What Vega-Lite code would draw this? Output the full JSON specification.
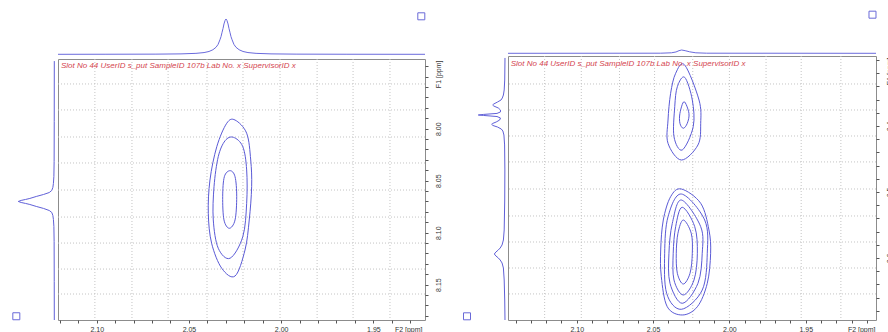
{
  "$schema": "https://vega.github.io/schema/vega-lite/v6.json",
  "padding": 0,
  "spacing": 5,
  "resolve": {"scale": {"x": "independent", "y": "independent"}},
  "config": {"view": {"stroke": null}, "font": "Liberation Sans"},
  "datasets": {
    "tp1": [{"ppm":2.121,"i":0},{"ppm":2.095,"i":0.0017},{"ppm":2.0679,"i":0.005},{"ppm":2.0543,"i":0.012},{"ppm":2.0462,"i":0.027},{"ppm":2.0418,"i":0.049},{"ppm":2.0391,"i":0.08},{"ppm":2.037,"i":0.129},{"ppm":2.0353,"i":0.2},{"ppm":2.0342,"i":0.28},{"ppm":2.0332,"i":0.41},{"ppm":2.0326,"i":0.5},{"ppm":2.0321,"i":0.61},{"ppm":2.0315,"i":0.735},{"ppm":2.031,"i":0.86},{"ppm":2.0304,"i":0.96},{"ppm":2.0299,"i":1.0},{"ppm":2.0294,"i":0.96},{"ppm":2.0288,"i":0.86},{"ppm":2.0283,"i":0.735},{"ppm":2.0277,"i":0.61},{"ppm":2.0272,"i":0.5},{"ppm":2.0266,"i":0.41},{"ppm":2.0256,"i":0.28},{"ppm":2.0245,"i":0.2},{"ppm":2.0228,"i":0.129},{"ppm":2.0207,"i":0.08},{"ppm":2.018,"i":0.049},{"ppm":2.0136,"i":0.027},{"ppm":2.0055,"i":0.012},{"ppm":1.9919,"i":0.005},{"ppm":1.9648,"i":0.0017},{"ppm":1.922,"i":0}],
    "lp1": [{"ppm":7.935,"i":0},{"ppm":7.9931,"i":0.002},{"ppm":8.0315,"i":0.005},{"ppm":8.046,"i":0.012},{"ppm":8.0527,"i":0.025},{"ppm":8.0565,"i":0.04},{"ppm":8.0594,"i":0.07},{"ppm":8.0614,"i":0.14},{"ppm":8.0633,"i":0.3},{"ppm":8.0652,"i":0.5},{"ppm":8.0671,"i":0.68},{"ppm":8.0681,"i":0.8},{"ppm":8.069,"i":0.92},{"ppm":8.07,"i":1.0},{"ppm":8.071,"i":0.92},{"ppm":8.0719,"i":0.8},{"ppm":8.0729,"i":0.68},{"ppm":8.0748,"i":0.5},{"ppm":8.0767,"i":0.3},{"ppm":8.0787,"i":0.14},{"ppm":8.0806,"i":0.07},{"ppm":8.0835,"i":0.04},{"ppm":8.0873,"i":0.025},{"ppm":8.094,"i":0.012},{"ppm":8.1085,"i":0.005},{"ppm":8.1469,"i":0.002},{"ppm":8.184,"i":0}],
    "tp2": [{"ppm":2.145,"i":0},{"ppm":2.045,"i":0.003},{"ppm":2.038,"i":0.015},{"ppm":2.035,"i":0.04},{"ppm":2.033,"i":0.08},{"ppm":2.0313,"i":0.1},{"ppm":2.029,"i":0.08},{"ppm":2.026,"i":0.045},{"ppm":2.022,"i":0.015},{"ppm":2.015,"i":0.003},{"ppm":1.904,"i":0}],
    "lp2": [{"ppm":0.297,"i":0},{"ppm":0.3304,"i":0.01},{"ppm":0.3455,"i":0.03},{"ppm":0.3531,"i":0.06},{"ppm":0.3576,"i":0.1},{"ppm":0.3607,"i":0.15},{"ppm":0.3637,"i":0.28},{"ppm":0.3667,"i":0.42},{"ppm":0.3682,"i":0.46},{"ppm":0.3698,"i":0.42},{"ppm":0.3728,"i":0.25},{"ppm":0.3758,"i":0.17},{"ppm":0.3788,"i":0.17},{"ppm":0.381,"i":0.3},{"ppm":0.3825,"i":0.8},{"ppm":0.3834,"i":1.0},{"ppm":0.3841,"i":0.8},{"ppm":0.3857,"i":0.3},{"ppm":0.3879,"i":0.17},{"ppm":0.391,"i":0.2},{"ppm":0.394,"i":0.33},{"ppm":0.3963,"i":0.47},{"ppm":0.3975,"i":0.5},{"ppm":0.3993,"i":0.45},{"ppm":0.4016,"i":0.28},{"ppm":0.4046,"i":0.14},{"ppm":0.4076,"i":0.08},{"ppm":0.4137,"i":0.04},{"ppm":0.4288,"i":0.015},{"ppm":0.4667,"i":0.005},{"ppm":0.5122,"i":0.01},{"ppm":0.5576,"i":0.03},{"ppm":0.5728,"i":0.06},{"ppm":0.5803,"i":0.11},{"ppm":0.5849,"i":0.18},{"ppm":0.5879,"i":0.25},{"ppm":0.591,"i":0.34},{"ppm":0.594,"i":0.4},{"ppm":0.597,"i":0.34},{"ppm":0.6,"i":0.25},{"ppm":0.6031,"i":0.18},{"ppm":0.6076,"i":0.11},{"ppm":0.6152,"i":0.06},{"ppm":0.6334,"i":0.03},{"ppm":0.6637,"i":0.01},{"ppm":0.694,"i":0}],
    "c1": [
      {"c":1,"k":0,"x":2.025,"y":7.9917},{"c":1,"k":1,"x":2.0187,"y":8.0044},{"c":1,"k":2,"x":2.0165,"y":8.0301},{"c":1,"k":3,"x":2.016,"y":8.0558},{"c":1,"k":4,"x":2.0173,"y":8.0878},{"c":1,"k":5,"x":2.0196,"y":8.1167},{"c":1,"k":6,"x":2.025,"y":8.1417},{"c":1,"k":7,"x":2.0322,"y":8.1343},{"c":1,"k":8,"x":2.0377,"y":8.1102},{"c":1,"k":9,"x":2.0395,"y":8.0814},{"c":1,"k":10,"x":2.0386,"y":8.0494},{"c":1,"k":11,"x":2.0349,"y":8.0173},{"c":1,"k":12,"x":2.0295,"y":7.9948},
      {"c":2,"k":0,"x":2.0259,"y":8.0083},{"c":2,"k":1,"x":2.0208,"y":8.0173},{"c":2,"k":2,"x":2.0187,"y":8.0397},{"c":2,"k":3,"x":2.0187,"y":8.0718},{"c":2,"k":4,"x":2.0208,"y":8.1039},{"c":2,"k":5,"x":2.0277,"y":8.1246},{"c":2,"k":6,"x":2.0341,"y":8.115},{"c":2,"k":7,"x":2.0368,"y":8.0878},{"c":2,"k":8,"x":2.0364,"y":8.0558},{"c":2,"k":9,"x":2.0341,"y":8.0269},{"c":2,"k":10,"x":2.0304,"y":8.0116},
      {"c":3,"k":0,"x":2.0277,"y":8.0404},{"c":3,"k":1,"x":2.025,"y":8.0462},{"c":3,"k":2,"x":2.0241,"y":8.0654},{"c":3,"k":3,"x":2.025,"y":8.0878},{"c":3,"k":4,"x":2.0281,"y":8.0958},{"c":3,"k":5,"x":2.031,"y":8.0878},{"c":3,"k":6,"x":2.0317,"y":8.0654},{"c":3,"k":7,"x":2.0308,"y":8.0462}
    ],
    "c2": [
      {"c":1,"k":0,"x":2.0293,"y":0.3076},{"c":1,"k":1,"x":2.0199,"y":0.3607},{"c":1,"k":2,"x":2.0188,"y":0.396},{"c":1,"k":3,"x":2.0206,"y":0.4288},{"c":1,"k":4,"x":2.0315,"y":0.4516},{"c":1,"k":5,"x":2.0402,"y":0.4263},{"c":1,"k":6,"x":2.0402,"y":0.391},{"c":1,"k":7,"x":2.0385,"y":0.3505},{"c":1,"k":8,"x":2.0352,"y":0.3202},
      {"c":2,"k":0,"x":2.0293,"y":0.3263},{"c":2,"k":1,"x":2.0243,"y":0.3607},{"c":2,"k":2,"x":2.0237,"y":0.4011},{"c":2,"k":3,"x":2.0309,"y":0.4364},{"c":2,"k":4,"x":2.0363,"y":0.4163},{"c":2,"k":5,"x":2.0358,"y":0.3708},{"c":2,"k":6,"x":2.0341,"y":0.3405},
      {"c":3,"k":0,"x":2.0297,"y":0.3632},{"c":3,"k":1,"x":2.0265,"y":0.3808},{"c":3,"k":2,"x":2.0276,"y":0.396},{"c":3,"k":3,"x":2.0302,"y":0.4035},{"c":3,"k":4,"x":2.0324,"y":0.396},{"c":3,"k":5,"x":2.0324,"y":0.3808},
      {"c":4,"k":0,"x":2.0315,"y":0.4955},{"c":4,"k":1,"x":2.0188,"y":0.5172},{"c":4,"k":2,"x":2.0134,"y":0.5576},{"c":4,"k":3,"x":2.0123,"y":0.5929},{"c":4,"k":4,"x":2.0145,"y":0.6384},{"c":4,"k":5,"x":2.021,"y":0.6739},{"c":4,"k":6,"x":2.0309,"y":0.6864},{"c":4,"k":7,"x":2.0407,"y":0.6739},{"c":4,"k":8,"x":2.0446,"y":0.6284},{"c":4,"k":9,"x":2.045,"y":0.5879},{"c":4,"k":10,"x":2.0433,"y":0.5425},{"c":4,"k":11,"x":2.0385,"y":0.5072},
      {"c":5,"k":0,"x":2.0315,"y":0.5031},{"c":5,"k":1,"x":2.0162,"y":0.5425},{"c":5,"k":2,"x":2.0145,"y":0.5929},{"c":5,"k":3,"x":2.0178,"y":0.6486},{"c":5,"k":4,"x":2.0315,"y":0.6778},{"c":5,"k":5,"x":2.0411,"y":0.6536},{"c":5,"k":6,"x":2.0424,"y":0.5929},{"c":5,"k":7,"x":2.0402,"y":0.5375},
      {"c":6,"k":0,"x":2.0315,"y":0.5122},{"c":6,"k":1,"x":2.0188,"y":0.5526},{"c":6,"k":2,"x":2.0178,"y":0.5929},{"c":6,"k":3,"x":2.0206,"y":0.6384},{"c":6,"k":4,"x":2.0309,"y":0.6687},{"c":6,"k":5,"x":2.0389,"y":0.6384},{"c":6,"k":6,"x":2.0396,"y":0.5929},{"c":6,"k":7,"x":2.0374,"y":0.5475},
      {"c":7,"k":0,"x":2.0309,"y":0.5232},{"c":7,"k":1,"x":2.0227,"y":0.5526},{"c":7,"k":2,"x":2.021,"y":0.5929},{"c":7,"k":3,"x":2.0232,"y":0.6334},{"c":7,"k":4,"x":2.0302,"y":0.6561},{"c":7,"k":5,"x":2.0363,"y":0.6334},{"c":7,"k":6,"x":2.0368,"y":0.5929},{"c":7,"k":7,"x":2.0352,"y":0.5526},
      {"c":8,"k":0,"x":2.0302,"y":0.5425},{"c":8,"k":1,"x":2.025,"y":0.5626},{"c":8,"k":2,"x":2.0243,"y":0.5929},{"c":8,"k":3,"x":2.0258,"y":0.6232},{"c":8,"k":4,"x":2.0302,"y":0.6395},{"c":8,"k":5,"x":2.0341,"y":0.6232},{"c":8,"k":6,"x":2.0348,"y":0.5929},{"c":8,"k":7,"x":2.0337,"y":0.5626}
    ],
    "g1x": [{"x":2.101},{"x":2.0809},{"x":2.0613},{"x":2.0402},{"x":2.0207},{"x":2.0006},{"x":1.9805},{"x":1.961},{"x":1.941}],
    "g1y": [{"y":7.957},{"y":7.982},{"y":8.008},{"y":8.033},{"y":8.059},{"y":8.085},{"y":8.11},{"y":8.135},{"y":8.159}],
    "g2x": [{"x":2.121},{"x":2.097},{"x":2.072},{"x":2.049},{"x":2.024},{"x":2.0},{"x":1.976},{"x":1.953},{"x":1.927}],
    "g2y": [{"y":0.3364},{"y":0.3758},{"y":0.4152},{"y":0.4545},{"y":0.4955},{"y":0.5364},{"y":0.5758},{"y":0.6152},{"y":0.6545}]
  },
  "hconcat": [
    {
      "columns": 2,
      "align": "each",
      "spacing": {"row": 1, "column": -1},
      "resolve": {"scale": {"x": "independent", "y": "independent"}},
      "concat": [
        {"width": 56, "height": 55, "data": {"values": []}, "mark": "point"},
        {
          "width": 367, "height": 55,
          "layer": [
            {"data": {"name": "tp1"}, "mark": {"type": "line", "color": "#6a6adc", "strokeWidth": 1},
             "encoding": {
               "x": {"field": "ppm", "type": "quantitative", "scale": {"domain": [1.922, 2.121], "reverse": true, "nice": false, "zero": false}, "axis": null},
               "y": {"field": "i", "type": "quantitative", "scale": {"domain": [-0.0198, 1.5382], "nice": false, "zero": false}, "axis": null}}},
            {"data": {"values": [{"ppm": 1.924, "i": 1.0765}]}, "mark": {"type": "point", "shape": "square", "size": 49, "filled": false, "color": "#6a6ad8", "strokeWidth": 1, "opacity": 1},
             "encoding": {"x": {"field": "ppm", "type": "quantitative", "axis": null}, "y": {"field": "i", "type": "quantitative", "axis": null}}}
          ]
        },
        {
          "width": 56, "height": 261,
          "layer": [
            {"data": {"name": "lp1"}, "mark": {"type": "line", "color": "#6060d8", "strokeWidth": 1},
             "encoding": {
               "x": {"field": "i", "type": "quantitative", "scale": {"domain": [-0.047, 1.508], "reverse": true, "nice": false, "zero": false}, "axis": null},
               "y": {"field": "ppm", "type": "quantitative", "scale": {"domain": [7.933, 8.184], "reverse": true, "nice": false, "zero": false}, "axis": null},
               "order": {"field": "ppm", "type": "quantitative"}}},
            {"data": {"values": [{"ppm": 8.1804, "i": 1.055}]}, "mark": {"type": "point", "shape": "square", "size": 49, "filled": false, "color": "#6a6ad8", "strokeWidth": 1, "opacity": 1},
             "encoding": {"x": {"field": "i", "type": "quantitative", "axis": null}, "y": {"field": "ppm", "type": "quantitative", "axis": null}}}
          ]
        },
        {
          "width": 367, "height": 261,
          "view": {"stroke": "#8c8c8c"},
          "layer": [
            {"data": {"name": "g1x"}, "mark": {"type": "rule", "color": "#c4c4c4", "strokeDash": [1, 2], "strokeWidth": 1},
             "encoding": {"x": {"field": "x", "type": "quantitative",
               "scale": {"domain": [1.922, 2.121], "reverse": true, "nice": false, "zero": false},
               "axis": {"orient": "bottom", "tickCount": 100, "values": [2.12,2.11,2.1,2.09,2.08,2.07,2.06,2.05,2.04,2.03,2.02,2.01,2.0,1.99,1.98,1.97,1.96,1.95,1.94,1.93],
                 "labelExpr": "abs(datum.value*20 - round(datum.value*20)) < 0.01 ? format(datum.value, '.2f') : ''",
                 "labelFontSize": 7, "labelColor": "#333", "labelPadding": 2, "labelOverlap": false, "labelFlush": false,
                 "tickSize": 3, "tickColor": "#555", "domain": false, "grid": false,
                 "title": "F2 [ppm]", "titleX": 364, "titleY": 5, "titleAlign": "right", "titleBaseline": "top", "titleFontSize": 7, "titleFontWeight": "normal", "titleColor": "#333"}}}},
            {"data": {"name": "g1y"}, "mark": {"type": "rule", "color": "#c4c4c4", "strokeDash": [1, 2], "strokeWidth": 1},
             "encoding": {"y": {"field": "y", "type": "quantitative",
               "scale": {"domain": [7.933, 8.184], "reverse": true, "nice": false, "zero": false},
               "axis": {"orient": "right", "tickCount": 100, "values": [7.94,7.95,7.96,7.97,7.98,7.99,8.0,8.01,8.02,8.03,8.04,8.05,8.06,8.07,8.08,8.09,8.1,8.11,8.12,8.13,8.14,8.15,8.16,8.17,8.18],
                 "labelExpr": "datum.value > 7.99 && abs(datum.value*20 - round(datum.value*20)) < 0.01 ? format(datum.value, '.2f') : ''",
                 "labelAngle": 270, "labelAlign": "center", "labelBaseline": "top", "labelPadding": 6,
                 "labelFontSize": 7, "labelColor": "#333", "labelOverlap": false, "labelFlush": false,
                 "tickSize": 3, "tickColor": "#555", "domain": false, "grid": false,
                 "title": "F1 [ppm]", "titleAngle": 270, "titleX": 9, "titleY": 1, "titleAlign": "right", "titleBaseline": "top", "titleFontSize": 7, "titleFontWeight": "normal", "titleColor": "#333"}}}},
            {"data": {"name": "c1"}, "mark": {"type": "line", "interpolate": "cardinal-closed", "color": "#5a5ad6", "strokeWidth": 1},
             "encoding": {
               "x": {"field": "x", "type": "quantitative"},
               "y": {"field": "y", "type": "quantitative"},
               "detail": {"field": "c", "type": "nominal"},
               "order": {"field": "k", "type": "quantitative"}}},
            {"data": {"values": [{"x": 2.1194, "y": 7.9397, "t": "Slot No 44 UserID s_put SampleID 107b Lab No. x SupervisorID x"}]},
             "mark": {"type": "text", "align": "left", "baseline": "middle", "fontStyle": "italic", "fontSize": 8, "color": "#d4454f"},
             "encoding": {"x": {"field": "x", "type": "quantitative"}, "y": {"field": "y", "type": "quantitative"}, "text": {"field": "t"}}}
          ]
        }
      ]
    },
    {
      "columns": 2,
      "align": "each",
      "spacing": {"row": -1, "column": -1},
      "resolve": {"scale": {"x": "independent", "y": "independent"}},
      "concat": [
        {"width": 60, "height": 54, "data": {"values": []}, "mark": "point"},
        {
          "width": 368, "height": 54,
          "layer": [
            {"data": {"name": "tp2"}, "mark": {"type": "line", "color": "#6a6adc", "strokeWidth": 1},
             "encoding": {
               "x": {"field": "ppm", "type": "quantitative", "scale": {"domain": [1.904, 2.145], "reverse": true, "nice": false, "zero": false}, "axis": null},
               "y": {"field": "i", "type": "quantitative", "scale": {"domain": [-0.0212, 1.615], "nice": false, "zero": false}, "axis": null}}},
            {"data": {"values": [{"ppm": 1.9063, "i": 1.17}]}, "mark": {"type": "point", "shape": "square", "size": 49, "filled": false, "color": "#6a6ad8", "strokeWidth": 1, "opacity": 1},
             "encoding": {"x": {"field": "ppm", "type": "quantitative", "axis": null}, "y": {"field": "i", "type": "quantitative", "axis": null}}}
          ]
        },
        {
          "width": 60, "height": 264,
          "layer": [
            {"data": {"name": "lp2"}, "mark": {"type": "line", "color": "#6060d8", "strokeWidth": 1},
             "encoding": {
               "x": {"field": "i", "type": "quantitative", "scale": {"domain": [-0.075, 2.172], "reverse": true, "nice": false, "zero": false}, "axis": null},
               "y": {"field": "ppm", "type": "quantitative", "scale": {"domain": [0.294, 0.694], "reverse": true, "nice": false, "zero": false}, "axis": null},
               "order": {"field": "ppm", "type": "quantitative"}}},
            {"data": {"values": [{"ppm": 0.6884, "i": 1.423}]}, "mark": {"type": "point", "shape": "square", "size": 49, "filled": false, "color": "#6a6ad8", "strokeWidth": 1, "opacity": 1},
             "encoding": {"x": {"field": "i", "type": "quantitative", "axis": null}, "y": {"field": "ppm", "type": "quantitative", "axis": null}}}
          ]
        },
        {
          "width": 368, "height": 264,
          "view": {"stroke": "#8c8c8c"},
          "layer": [
            {"data": {"name": "g2x"}, "mark": {"type": "rule", "color": "#c4c4c4", "strokeDash": [1, 2], "strokeWidth": 1},
             "encoding": {"x": {"field": "x", "type": "quantitative",
               "scale": {"domain": [1.904, 2.145], "reverse": true, "nice": false, "zero": false},
               "axis": {"orient": "bottom", "tickCount": 100, "values": [2.14,2.13,2.12,2.11,2.1,2.09,2.08,2.07,2.06,2.05,2.04,2.03,2.02,2.01,2.0,1.99,1.98,1.97,1.96,1.95,1.94,1.93,1.92,1.91],
                 "labelExpr": "abs(datum.value*20 - round(datum.value*20)) < 0.01 ? format(datum.value, '.2f') : ''",
                 "labelFontSize": 7, "labelColor": "#333", "labelPadding": 2, "labelOverlap": false, "labelFlush": false,
                 "tickSize": 3, "tickColor": "#555", "domain": false, "grid": false,
                 "title": "F2 [ppm]", "titleX": 367, "titleY": 5, "titleAlign": "right", "titleBaseline": "top", "titleFontSize": 7, "titleFontWeight": "normal", "titleColor": "#333"}}}},
            {"data": {"name": "g2y"}, "mark": {"type": "rule", "color": "#c4c4c4", "strokeDash": [1, 2], "strokeWidth": 1},
             "encoding": {"y": {"field": "y", "type": "quantitative",
               "scale": {"domain": [0.294, 0.694], "reverse": true, "nice": false, "zero": false},
               "axis": {"orient": "right", "tickCount": 100, "values": [0.3,0.32,0.34,0.36,0.38,0.4,0.42,0.44,0.46,0.48,0.5,0.52,0.54,0.56,0.58,0.6,0.62,0.64,0.66,0.68],
                 "labelExpr": "datum.value > 0.35 && abs(datum.value*10 - round(datum.value*10)) < 0.01 ? format(datum.value, '.1f') : ''",
                 "labelAngle": 270, "labelAlign": "center", "labelBaseline": "top", "labelPadding": 6,
                 "labelFontSize": 7, "labelColor": "#333", "labelOverlap": false, "labelFlush": false,
                 "tickSize": 3, "tickColor": "#555", "domain": false, "grid": false,
                 "title": "F1 [ppm]", "titleAngle": 270, "titleX": 9, "titleY": 1, "titleAlign": "right", "titleBaseline": "top", "titleFontSize": 7, "titleFontWeight": "normal", "titleColor": "#333"}}}},
            {"data": {"name": "c2"}, "mark": {"type": "line", "interpolate": "cardinal-closed", "color": "#5a5ad6", "strokeWidth": 1},
             "encoding": {
               "x": {"field": "x", "type": "quantitative"},
               "y": {"field": "y", "type": "quantitative"},
               "detail": {"field": "c", "type": "nominal"},
               "order": {"field": "k", "type": "quantitative"}}},
            {"data": {"values": [{"x": 2.1432, "y": 0.3061, "t": "Slot No 44 UserID s_put SampleID 107b Lab No. x SupervisorID x"}]},
             "mark": {"type": "text", "align": "left", "baseline": "middle", "fontStyle": "italic", "fontSize": 8, "color": "#d4454f"},
             "encoding": {"x": {"field": "x", "type": "quantitative"}, "y": {"field": "y", "type": "quantitative"}, "text": {"field": "t"}}}
          ]
        }
      ]
    }
  ]
}
